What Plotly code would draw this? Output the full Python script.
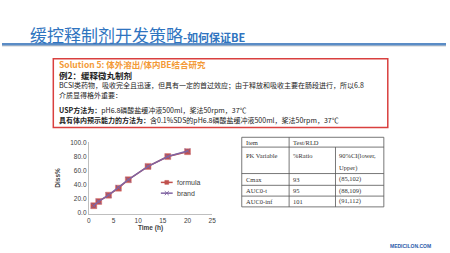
import plotly.graph_objects as go

W, H = 450, 253

# ---- data ----
time_h = [1, 2, 4, 6, 8, 12, 16, 20]
formula = [10, 16, 25, 35, 47, 66, 80, 87]
brand = [10, 16, 25, 36, 47, 66, 80, 88]
x_ticks = [0, 5, 10, 15, 20, 25]
y_ticks = [0, 20, 40, 60, 80, 100]
series_names = ["formula", "brand"]
series_colors = ["#c0504d", "#8064a2"]

title_main = "缓控释制剂开发策略"
title_sub = "-如何保证BE"
box_lines = [
    ("", "Solution 5: 体外溶出/体内BE结合研究"),
    ("例2：缓释微丸制剂", ""),
    ("", "BCSI类药物，吸收完全且迅速，但具有一定的首过效应；由于释放和吸收主要在肠段进行，所以6.8"),
    ("", "介质显得格外重要："),
    ("USP方法为：", "pH6.8磷酸盐缓冲液500ml，桨法50rpm，37℃"),
    ("具有体内预示能力的方法为：", "含0.1%SDS的pH6.8磷酸盐缓冲液500ml，桨法50rpm，37℃"),
]
table_rows = [
    ["Item", "Test/RLD", ""],
    ["PK Variable", "%Ratio", "90%CI(lower,\nUpper)"],
    ["Cmax", "93", "(85,102)"],
    ["AUC0-t", "95", "(88,109)"],
    ["AUC0-inf", "101", "(91,112)"],
]
logo = "MEDICILON.COM"


def px(x):
    return x / W


def py(y):
    return 1 - y / H


CJK = "Noto Sans CJK SC"
BLUE = "#2f74c0"

fig = go.Figure()
fig.add_trace(go.Scatter(
    x=time_h, y=formula, name=series_names[0], mode="lines+markers",
    line=dict(color=series_colors[0], width=1.5),
    marker=dict(symbol="square", size=6, color=series_colors[0], line=dict(color="#d87c7a", width=0.5)),
))
fig.add_trace(go.Scatter(
    x=time_h, y=brand, name=series_names[1], mode="lines+markers",
    line=dict(color=series_colors[1], width=1.5),
    marker=dict(symbol="x-thin", size=5, color=series_colors[1], line=dict(color=series_colors[1], width=1)),
))

axfont = dict(size=6.5, family="Liberation Sans", color="#404040")
fig.update_layout(
    width=W, height=H, margin=dict(l=0, r=0, t=0, b=0),
    paper_bgcolor="white", plot_bgcolor="white",
    font=dict(family=CJK, color="#222"),
    showlegend=False,
    xaxis=dict(domain=[px(88), px(213)], range=[0, 25], tickvals=x_ticks,
               showgrid=False, zeroline=False, showline=True, linecolor="#bfbfbf",
               linewidth=1, ticks="", tickfont=axfont,
               title=dict(text="<b>Time (h)</b>", font=axfont, standoff=2)),
    yaxis=dict(domain=[py(215), py(142)], range=[-1.5, 100.5], tickvals=y_ticks,
               tickformat=".1f", showgrid=False, zeroline=False, showline=True,
               linecolor="#bfbfbf", linewidth=1, ticks="", tickfont=axfont,
               title=dict(text="<b>Diss%</b>", font=axfont, standoff=8)),
)

shapes = []
annotations = []

# manual compact legend
for k, (nm, col) in enumerate(zip(series_names, series_colors)):
    yy = 183 + 11 * k
    shapes.append(dict(type="line", xref="paper", yref="paper", x0=px(161), x1=px(173),
                       y0=py(yy), y1=py(yy), line=dict(color=col, width=1.5)))
    if k == 0:
        shapes.append(dict(type="rect", xref="paper", yref="paper", x0=px(165), x1=px(169),
                           y0=py(yy + 2), y1=py(yy - 2), line=dict(color=col, width=0.5), fillcolor=col))
    else:
        for d in (1, -1):
            shapes.append(dict(type="line", xref="paper", yref="paper", x0=px(165), x1=px(169),
                               y0=py(yy - 2 * d), y1=py(yy + 2 * d), line=dict(color=col, width=1)))
    annotations.append(dict(xref="paper", yref="paper", x=px(175), y=py(yy), xanchor="left", yanchor="middle",
                            showarrow=False, text=nm, font=dict(size=7, family="Liberation Sans", color="#404040")))

# title
annotations.append(dict(xref="paper", yref="paper", x=px(26), y=py(32), xanchor="left", yanchor="middle",
                        showarrow=False,
                        text=f"<span style='font-size:17px'>{title_main}</span><b><span style='font-size:11px'>{title_sub}</span></b>",
                        font=dict(family=CJK, color=BLUE, size=17)))
# underline
shapes.append(dict(type="line", xref="paper", yref="paper", x0=0, x1=1, y0=py(43.5), y1=py(43.5),
                   line=dict(color="#d0d0d0", width=1.5)))
shapes.append(dict(type="line", xref="paper", yref="paper", x0=0, x1=1, y0=py(42), y1=py(42),
                   line=dict(color="#5a8cc6", width=2.5)))

# red box
shapes.append(dict(type="rect", xref="paper", yref="paper", x0=px(52), x1=px(391), y0=py(127), y1=py(57),
                   line=dict(color="#d9403f", width=1.5), fillcolor="white", layer="below"))

line_y = [62, 73, 83.5, 93.5, 109, 119.5]
for (bold, normal), yy in zip(box_lines, line_y):
    if bold == "" and normal.startswith("Solution"):
        txt = f"<b>{normal}</b>"
        col = "#f39a37"
        sz = 8.5
    else:
        txt = (f"<b>{bold}</b>" if bold else "") + normal
        col = "#222222"
        sz = 8.5 if normal == "" else 7
    annotations.append(dict(xref="paper", yref="paper", x=px(56), y=py(yy), xanchor="left", yanchor="middle",
                            showarrow=False, text=txt, font=dict(family=CJK, size=sz, color=col)))

# table
col_x = [243, 291, 338, 387]
row_y = [137, 147, 174, 186, 197, 208]
tcol = "#555555"
for i, yy in enumerate(row_y):
    shapes.append(dict(type="line", xref="paper", yref="paper", x0=px(col_x[0]), x1=px(col_x[-1]),
                       y0=py(yy), y1=py(yy), line=dict(color=tcol, width=0.8)))
for j, xx in enumerate(col_x):
    y_start = row_y[1] if j == 2 else row_y[0]
    shapes.append(dict(type="line", xref="paper", yref="paper", x0=px(xx), x1=px(xx),
                       y0=py(y_start), y1=py(row_y[-1]), line=dict(color=tcol, width=0.8)))
for i, row in enumerate(table_rows):
    top = row_y[i]
    for j, cell in enumerate(row):
        if not cell:
            continue
        for k, part in enumerate(cell.split("\n")):
            yy = (top + row_y[i + 1]) / 2 if i != 1 else top + 9 + 12 * k
            annotations.append(dict(xref="paper", yref="paper", x=px(col_x[j] + 2), y=py(yy),
                                    xanchor="left", yanchor="middle", showarrow=False, text=part,
                                    font=dict(family="Liberation Serif", size=6.5, color="#333")))

# logo
annotations.append(dict(xref="paper", yref="paper", x=px(414), y=py(248), xanchor="center", yanchor="middle",
                        showarrow=False, text=f"<b>{logo}</b>",
                        font=dict(family="Liberation Sans", size=5, color="#2a5caa")))

fig.update_layout(shapes=shapes, annotations=annotations)
fig.write_html("out.html")
